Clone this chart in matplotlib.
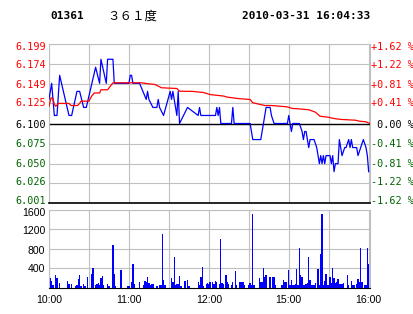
import matplotlib
matplotlib.use("Agg")
import matplotlib.pyplot as plt
from matplotlib.transforms import ScaledTranslation, blended_transform_factory

# minute of the trading day (0 = 10:00, 150 = 12:30 / 14:30, 240 = 16:00)
price_min = [0, 2, 3, 4, 6, 8, 15, 17, 21, 23, 26, 28, 35, 38, 39, 43, 44, 48, 49,
             60, 61, 62, 63, 68, 73, 74, 75, 78, 81, 82, 83, 86, 91, 92, 93, 96, 97, 98,
             104, 112, 113, 114, 125, 126, 127, 128, 129, 137, 138, 139, 151, 153, 159,
             163, 166, 167, 169, 179, 180, 181, 182, 183, 188, 190, 191, 192, 193, 194,
             195, 196, 199, 201, 202, 203, 204, 205, 206, 207, 208, 211, 212, 213, 214,
             215, 217, 218, 219, 220, 222, 223, 225, 226, 227, 228, 231, 232, 234, 236,
             238, 239, 240]
price_val = [6.13, 6.15, 6.13, 6.11, 6.11, 6.16, 6.11, 6.11, 6.14, 6.14, 6.12, 6.12,
             6.17, 6.15, 6.18, 6.15, 6.18, 6.18, 6.15,
             6.15, 6.16, 6.16, 6.15, 6.15, 6.13, 6.14, 6.13, 6.12, 6.12, 6.13, 6.12,
             6.11, 6.14, 6.13, 6.14, 6.11, 6.14, 6.10,
             6.12, 6.11, 6.12, 6.11, 6.11, 6.12, 6.11, 6.12, 6.10, 6.10, 6.12, 6.10,
             6.10, 6.08, 6.08,
             6.12, 6.12, 6.11, 6.10, 6.10, 6.11, 6.10, 6.09, 6.10, 6.10, 6.09, 6.08,
             6.09, 6.09, 6.08,
             6.07, 6.08, 6.08, 6.07, 6.06, 6.05, 6.06, 6.05, 6.06, 6.05, 6.06, 6.06,
             6.05, 6.06, 6.04,
             6.05, 6.05, 6.08, 6.07, 6.06, 6.07, 6.07, 6.08, 6.07, 6.08, 6.07, 6.07,
             6.06, 6.07, 6.08,
             6.07, 6.06, 6.04]

avg_min = [0, 1.5, 3, 4, 5, 6.5, 7, 15, 16.5, 21.5, 23, 24, 30, 32, 34, 38, 39, 44, 48,
           69, 73, 79.5, 84.5, 96, 98, 107.5, 116, 121, 131, 134, 142.5, 151, 153,
           162, 167, 178.5, 183, 187, 195, 200, 202, 203.5, 210, 215, 220, 230, 233,
           238, 241]
avg_val = [6.1215, 6.132, 6.131, 6.1237, 6.1215, 6.1237, 6.125, 6.125, 6.1224, 6.1224,
           6.125, 6.1278, 6.1278, 6.134, 6.138, 6.138, 6.142, 6.142, 6.1507,
           6.1507, 6.1498, 6.1486, 6.1445, 6.1436, 6.1402, 6.140, 6.1386, 6.136, 6.1342,
           6.1328, 6.131, 6.1299, 6.1258,
           6.1224, 6.1224, 6.1208, 6.1187, 6.1183, 6.1171, 6.1141, 6.1112, 6.1091,
           6.1077, 6.1059, 6.105, 6.1041, 6.1029, 6.1021, 6.100]

vol_min = [1, 2, 3, 5, 6, 8, 14, 15, 17, 20, 21, 22, 23, 24, 26, 27, 29, 32, 33, 35,
           36, 37, 38, 39, 40, 41, 44, 45, 48, 49, 50, 54, 59, 60, 62, 63, 64, 68,
           71, 72, 73, 74, 75, 76, 77, 78, 81, 83, 84, 85, 86, 87, 92, 93, 94, 95,
           96, 97, 98, 99, 102, 104, 105, 112, 113, 114, 115, 116, 118, 119, 120,
           121, 123, 124, 125, 126, 128, 129, 130, 131, 133, 134, 135, 137, 138, 140,
           141, 143, 144, 145, 146, 147, 150, 151, 152, 153, 154, 158, 159, 160, 161,
           162, 163, 166, 168, 169, 170, 175, 176, 177, 178, 180, 181, 182, 183, 184,
           185, 186, 187, 188, 189, 190, 191, 192, 193, 194, 195, 196, 197, 198, 199,
           200, 202, 203, 204, 205, 206, 207, 208, 209, 210, 211, 212, 213, 214, 215,
           216, 217, 218, 219, 220, 221, 224, 225, 227, 228, 229, 231, 232, 233, 234,
           235, 237, 238, 239, 240]
vol_val = [205, 150, 55, 273, 205, 102, 150, 82, 82, 34, 55, 191, 273, 34, 82, 48, 225,
           287, 410, 55, 82, 102, 55, 205, 246, 55, 82, 48, 881, 287, 34, 369, 41, 41,
           123, 492, 82, 123, 68, 150, 123, 225, 102, 68, 82, 82, 34, 55, 55, 1107, 164,
           55, 205, 123, 635, 55, 82, 82, 239, 34, 137, 164, 34, 123, 55, 225, 423, 34,
           82, 102, 82,
           123, 123, 82, 150, 123, 82, 990, 102, 82, 273, 123, 82, 68, 123, 355,
           55, 123, 123, 123, 123, 55, 68, 102, 55, 1503, 55, 205, 123, 123, 410,
           225, 273, 225, 225, 225, 55, 55, 171, 123, 123, 369, 55, 171, 55, 55,
           82, 389, 55, 806, 260, 225, 55, 55, 82, 102, 635, 164, 55, 55, 55,
           102, 389, 55, 703, 1516, 55, 150, 294, 55, 55, 225, 102, 410, 205, 102,
           123, 184, 82, 82, 82, 102, 273, 55, 150, 55, 55, 82, 191, 123, 820,
           123, 55, 55, 806, 492]

price_ticks = [6.199, 6.174, 6.149, 6.125, 6.100, 6.075, 6.050, 6.026, 6.001]
pct_labels = ['+1.62 %', '+1.22 %', '+0.81 %', '+0.41 %', ' 0.00 %',
              '-0.41 %', '-0.81 %', '-1.22 %', '-1.62 %']
vol_ticks = [400, 800, 1200, 1600]
time_ticks = [0, 60, 120, 180, 240]
time_labels = ['10:00', '11:00', '12:00', '15:00', '16:00']

RED, GREEN, GRID = '#ff0000', '#006400', '#c0c0c0'
tick_colors = [RED] * 4 + ['black'] + [GREEN] * 4
mono = 'DejaVu Sans Mono'

fig = plt.figure(figsize=(4.14, 3.14), dpi=100)
ax = fig.add_axes([49 / 414, 111 / 314, 321 / 414, 159 / 314])
axv = fig.add_axes([49 / 414, 26 / 314, 321 / 414, 78.5 / 314])


def side_label(a, x, y, text, dx, dy, **kw):
    # text beside the axes at data height y, shifted dx/dy pixels (dy down)
    tr = (blended_transform_factory(a.transAxes, a.transData)
          + ScaledTranslation(dx / 100, -dy / 100, fig.dpi_scale_trans))
    a.text(x, y, text, transform=tr, va='center', clip_on=False, **kw)


# labels near the panel edges are pulled inward
price_nudge = [2.7, 1.4, 0.5, 0, 1, 0, 0, -1, -2.5]
vol_nudge = [0.3, 2, 2, 3.5]

# price panel
ax.plot(price_min, price_val, color='#0000ff', lw=0.9, zorder=3)
ax.plot(avg_min, avg_val, color=RED, lw=0.9, zorder=3)
ax.axhline(6.100, color='black', lw=1.0, zorder=2)
ax.set_xlim(0, 241)
ax.set_ylim(6.001, 6.199)
ax.set_yticks(price_ticks)
ax.set_xticks(range(0, 241, 30))
ax.tick_params(length=0, labelleft=False, labelbottom=False)
ax.grid(color=GRID, lw=0.8)
for s in ['top', 'left', 'right']:
    ax.spines[s].set_color(GRID)
ax.spines['bottom'].set_color('black')
ax.spines['bottom'].set_linewidth(1.2)

for t, pct, c, d in zip(price_ticks, pct_labels, tick_colors, price_nudge):
    side_label(ax, 0, t, f'{t:.3f}', -3, d, ha='right', color=c,
               fontfamily=mono, fontsize=7.3)
    side_label(ax, 1, t, pct, 1.5, d, ha='left', color=c,
               fontfamily=mono, fontsize=7.3)

# volume panel
axv.bar(vol_min, vol_val, width=1.0, color='#0000ff', linewidth=0,
        antialiased=False, zorder=3)
axv.set_xlim(0, 241)
axv.set_ylim(0, 1600)
axv.set_yticks(vol_ticks)
axv.set_xticks(range(0, 241, 30))
axv.set_xticklabels(['' if t not in time_ticks else time_labels[time_ticks.index(t)]
                     for t in range(0, 241, 30)], fontfamily='Liberation Sans', fontsize=7.6)
axv.tick_params(length=0, labelleft=False)
axv.tick_params(axis='x', pad=5)
axv.grid(color=GRID, lw=0.8)
for s in ['top', 'left', 'right']:
    axv.spines[s].set_color(GRID)
axv.spines['bottom'].set_color('black')

for v, d in zip(vol_ticks, vol_nudge):
    side_label(axv, 0, v, str(v), -4, d, ha='right', color='black',
               fontfamily='Liberation Sans', fontsize=7.6)

# header
fig.text(50 / 414, 1 - 16 / 314, '01361', fontfamily=mono, fontweight='bold',
         fontsize=8, va='center', ha='left')
fig.text(107 / 414, 1 - 16 / 314, '３６１度', fontfamily='Noto Sans CJK SC',
         fontsize=9, va='center', ha='left')
fig.text(370 / 414, 1 - 16 / 314, '2010-03-31 16:04:33', fontfamily=mono,
         fontweight='bold', fontsize=8, va='center', ha='right')

fig.savefig('out.png', dpi=100)
